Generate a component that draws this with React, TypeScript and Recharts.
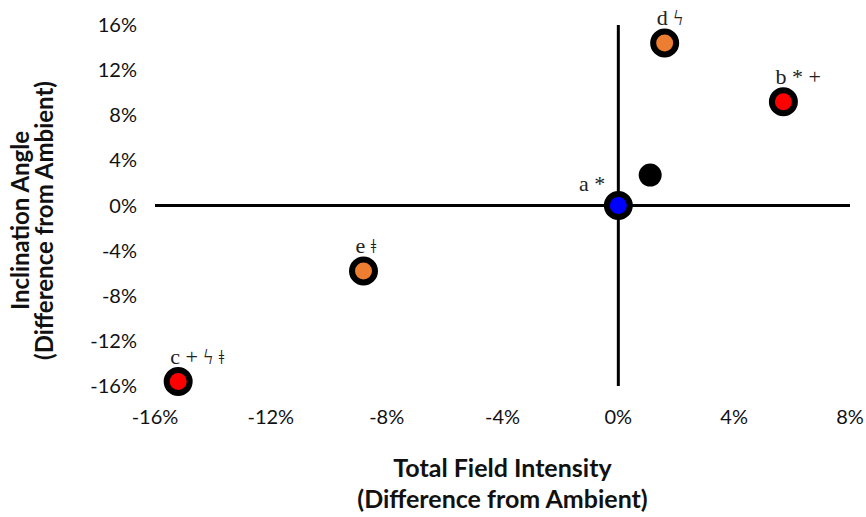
import React from 'react';
import { ScatterChart, Scatter, XAxis, YAxis, ReferenceLine } from 'recharts';

// values (percent difference from ambient)
const pointNames = ['a', 'b', 'c', 'd', 'e', 'ctrl'];
const intensity = [0, 5.7, -15.2, 1.6, -8.8, 1.1];
const inclination = [0, 9.2, -15.6, 14.4, -5.8, 2.7];
const fills = ['#0000FF', '#FF0000', '#FF0000', '#ED7D31', '#ED7D31', '#000000'];
const markLabels = ['a *', 'b * +', 'c + ϟ ǂ', 'd ϟ', 'e ǂ', ''];

const xTicks = [-16, -12, -8, -4, 0, 4, 8];
const yTicks = [-16, -12, -8, -4, 0, 4, 8, 12, 16];

const data = pointNames.map((name, i) => ({
  name,
  x: intensity[i],
  y: inclination[i],
  fill: fills[i],
  label: markLabels[i],
}));

const tickStyle = { fill: '#111', fontSize: 20, fontFamily: 'Lato, sans-serif' };

const Marker = (props: any) => {
  const { cx, cy, payload } = props;
  if (cx == null || cy == null) return null;
  const ringed = payload.name !== 'ctrl';
  const leftLabel = payload.name === 'a';
  return (
    <g>
      {ringed ? (
        <circle cx={cx} cy={cy} r={11.5} fill={payload.fill} stroke="#000" strokeWidth={6} />
      ) : (
        <circle cx={cx} cy={cy} r={11.5} fill="#000" />
      )}
      {payload.label && (
        <text
          x={leftLabel ? cx - 13 : cx - 8}
          y={leftLabel ? cy - 20 : cy - 23}
          textAnchor={leftLabel ? 'end' : 'start'}
          dominantBaseline="middle"
          fontSize={22}
          fontFamily="'Liberation Serif', 'DejaVu Serif', serif"
          fill="#222"
        >
          {payload.label}
        </text>
      )}
    </g>
  );
};

const XTitle = (props: any) => {
  const { x, y, width } = props.viewBox;
  const cx = x + width / 2;
  return (
    <text textAnchor="middle" fill="#111" fontSize={25} fontWeight={700} fontFamily="Lato, sans-serif">
      <tspan x={cx} y={y + 91}>Total Field Intensity</tspan>
      <tspan x={cx} y={y + 122}>(Difference from Ambient)</tspan>
    </text>
  );
};

const YTitle = (props: any) => {
  const { y, height } = props.viewBox;
  const cy = y + height / 2 + 15;
  return (
    <text
      textAnchor="middle"
      fill="#111"
      fontSize={24}
      fontWeight={700}
      fontFamily="Lato, sans-serif"
      transform={`rotate(-90, 0, ${cy})`}
    >
      <tspan x={0} y={cy + 29}>Inclination Angle</tspan>
      <tspan x={0} y={cy + 53}>(Difference from Ambient)</tspan>
    </text>
  );
};

export default function App() {
  return (
    <div style={{ position: 'absolute', left: 0, top: 0, background: '#fff' }}>
      <ScatterChart width={866} height={517} margin={{ top: 25, right: 16, bottom: 0, left: 0 }}>
        <XAxis
          type="number"
          dataKey="x"
          domain={[-16, 8]}
          ticks={xTicks}
          tickFormatter={(v) => `${v}%`}
          axisLine={false}
          tickLine={false}
          tickSize={0}
          tickMargin={24}
          tick={tickStyle}
          height={131}
          interval={0}
          label={<XTitle />}
        />
        <YAxis
          type="number"
          dataKey="y"
          domain={[-16, 16]}
          ticks={yTicks}
          tickFormatter={(v) => `${v}%`}
          axisLine={false}
          tickLine={false}
          tickSize={0}
          tickMargin={18}
          tick={tickStyle}
          width={155}
          interval={0}
          label={<YTitle />}
        />
        <ReferenceLine x={0} stroke="#000" strokeWidth={3} />
        <ReferenceLine y={0} stroke="#000" strokeWidth={3} />
        <Scatter data={data} shape={<Marker />} isAnimationActive={false} />
      </ScatterChart>
    </div>
  );
}
